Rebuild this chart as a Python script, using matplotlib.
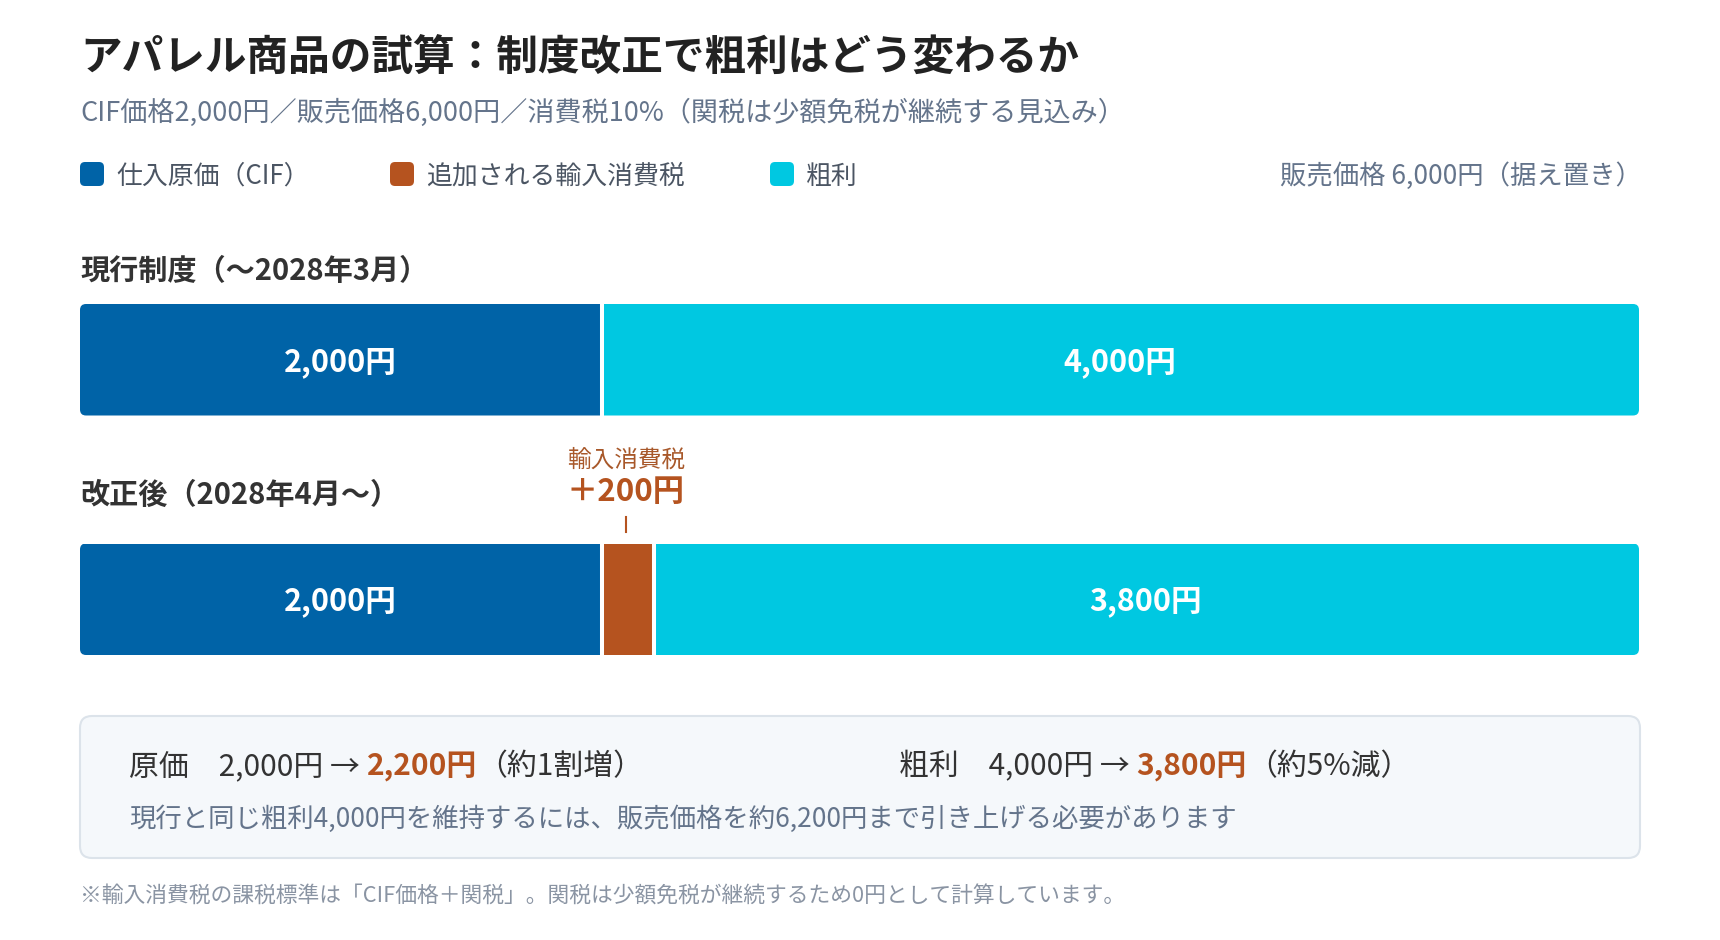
import matplotlib
matplotlib.use("Agg")
import matplotlib.pyplot as plt
from matplotlib.patches import FancyBboxPatch
from matplotlib.transforms import blended_transform_factory

plt.rcParams['font.family'] = ['Noto Sans CJK JP', 'DejaVu Sans']

# ---- data ----
legend_labels = ["仕入原価（CIF）", "追加される輸入消費税", "粗利"]
seg_colors = ["#0063A7", "#B5531F", "#00C8E1"]
row_labels = ["現行制度（〜2028年3月）", "改正後（2028年4月〜）"]
cost = [2000, 2000]
tax = [0, 200]
profit = [4000, 3800]
price = 6000

title = "アパレル商品の試算：制度改正で粗利はどう変わるか"
subtitle = "CIF価格2,000円／販売価格6,000円／消費税10%（関税は少額免税が継続する見込み）"
footnote = "※輸入消費税の課税標準は「CIF価格＋関税」。関税は少額免税が継続するため0円として計算しています。"

DARK = "#222222"
GRAY = "#64748B"
ORANGE = "#B5531F"

W, H = 1720, 940
fig = plt.figure(figsize=(W / 100, H / 100), dpi=100)
ax0 = fig.add_axes([0, 0, 1, 1])
ax0.set_xlim(0, W)
ax0.set_ylim(H, 0)
ax0.axis("off")

# title block
ax0.text(80, 58, title, fontsize=30, fontweight="bold", color=DARK, va="center")
ax0.text(80, 113, subtitle, fontsize=19.5, color=GRAY, va="center")

# legend
leg_x = [80, 390, 770]
for lx, lab, c in zip(leg_x, legend_labels, seg_colors):
    ax0.add_patch(FancyBboxPatch((lx, 162), 24, 24, boxstyle="round,pad=0,rounding_size=5",
                                 fc=c, ec="none"))
    ax0.text(lx + 36, 176, lab, fontsize=18.6, color="#4B5563", va="center")
ax0.text(1642, 176, f"販売価格 {price:,}円（据え置き）", fontsize=19, color=GRAY,
         va="center", ha="right")

# ---- bars ----
bar_top, bar_bot = 304, 655
bar_h_px = 111.5
row_gap_px = 239.5
bx0, bx1 = 80, 1639
axb = fig.add_axes([bx0 / W, 1 - bar_bot / H, (bx1 - bx0) / W, (bar_bot - bar_top) / H])
h = bar_h_px / row_gap_px
axb.set_xlim(0, price)
axb.set_ylim(1 + h / 2, -h / 2)
axb.axis("off")

px_x = price / (bx1 - bx0)
px_y = 1 / row_gap_px
radius = 6 * px_x

for i in range(len(row_labels)):
    clip = FancyBboxPatch((0, i - h / 2), price, h,
                          boxstyle=f"round,pad=0,rounding_size={radius}",
                          mutation_aspect=px_y / px_x, fc="none", ec="none")
    axb.add_patch(clip)
    vals = [cost[i], tax[i], profit[i]]
    left = 0
    bounds = []
    for v, c in zip(vals, seg_colors):
        if v > 0:
            b = axb.barh(i, v, left=left, height=h, color=c, linewidth=0)
            for p in b:
                p.set_clip_path(clip)
            if left > 0:
                bounds.append(left)
        left += v
    for xb in bounds:
        axb.plot([xb + 2 * px_x, xb + 2 * px_x], [i - h / 2, i + h / 2], color="white", lw=2.9,
                 solid_capstyle="butt")
    # labels inside
    axb.text(cost[i] / 2, i + 0.01, f"{cost[i]:,}円", color="white", fontsize=22,
             fontweight="bold", ha="center", va="center")
    axb.text(cost[i] + tax[i] + profit[i] / 2, i + 0.01, f"{profit[i]:,}円", color="white",
             fontsize=22, fontweight="bold", ha="center", va="center")

# row labels
ax0.text(80, 271, row_labels[0], fontsize=21, fontweight="bold", color="#333333", va="center")
ax0.text(80, 495, row_labels[1], fontsize=21, fontweight="bold", color="#333333", va="center")

# tax annotation
tr = blended_transform_factory(axb.transData, ax0.transData)
tx = cost[1] + tax[1] / 2
ax0.text(tx, 460, "輸入消費税", transform=tr, fontsize=17, color="#A8582A",
         ha="center", va="center")
ax0.text(tx, 492, f"＋{tax[1]}円", transform=tr, fontsize=22.5, fontweight="bold",
         color=ORANGE, ha="center", va="center")
ax0.plot([tx, tx], [517, 532], transform=tr, color=ORANGE, lw=1.5)

# ---- summary box ----
ax0.add_patch(FancyBboxPatch((80, 716), 1560, 142, boxstyle="round,pad=0,rounding_size=12",
                             fc="#F5F8FB", ec="#DCE3EA", lw=1.5))

renderer = fig.canvas.get_renderer()


def put_line(x, y, parts, size):
    for s, color, weight in parts:
        t = ax0.text(x, y, s, fontsize=size, color=color, fontweight=weight,
                     ha="left", va="center")
        x += t.get_window_extent(renderer=renderer).width


new_cost = cost[1] + tax[1]
put_line(129, 767, [("原価　" + f"{cost[0]:,}円 → ", "#333333", "normal"),
                    (f"{new_cost:,}円", ORANGE, "bold"),
                    ("（約1割増）", "#333333", "normal")], 21.5)
put_line(899, 767, [("粗利　" + f"{profit[0]:,}円 → ", "#333333", "normal"),
                    (f"{profit[1]:,}円", ORANGE, "bold"),
                    ("（約5%減）", "#333333", "normal")], 21.5)
ax0.text(129, 819, f"現行と同じ粗利{profit[0]:,}円を維持するには、販売価格を約{price + tax[1]:,}円まで引き上げる必要があります",
         fontsize=19, color=GRAY, va="center")

ax0.text(80, 897, footnote, fontsize=15.7, color="#8A94A3", va="center")

fig.savefig("out.png", dpi=100)
